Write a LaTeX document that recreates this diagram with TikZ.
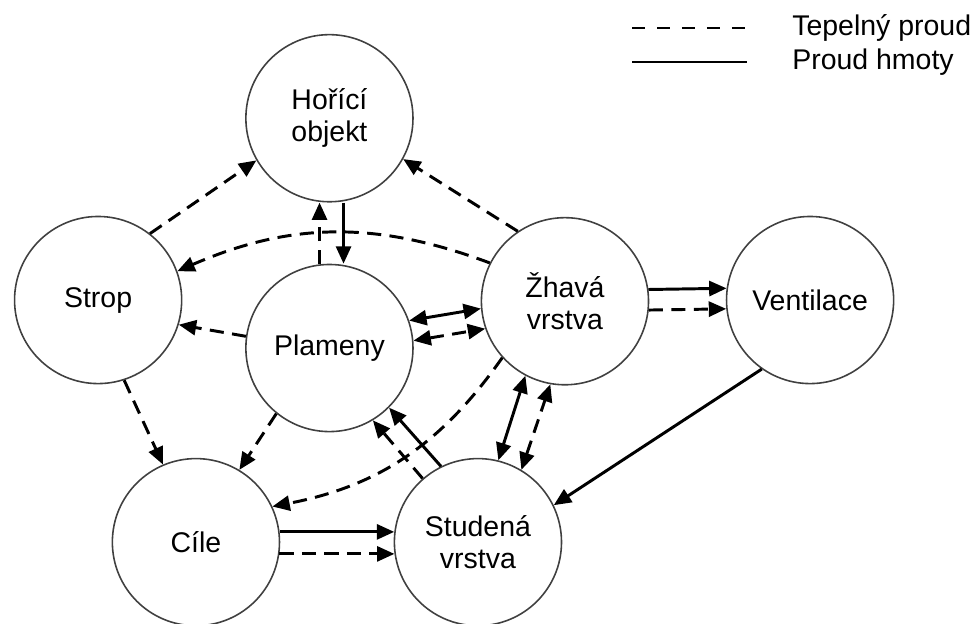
\documentclass[tikz,border=0pt]{standalone}
\usepackage{fontspec}
\setmainfont{Liberation Sans}
\usetikzlibrary{arrows.meta}

\begin{document}
\begin{tikzpicture}[
    >={Triangle[length=0.58cm, width=0.5cm]},
    uzel/.style={circle, draw=black!75, line width=1.5pt, minimum size=5.57cm, inner sep=0pt, align=center, font=\fontsize{27}{30.5}\selectfont},
    hmota/.style={line width=2.8pt, ->},
    teplo/.style={hmota, dash pattern=on 0.47cm off 0.28cm},
  ]
    \useasboundingbox (0,0) rectangle (32.53,20.77);

    % legenda
    \coordinate (L1) at (21.07, 19.83);
    \coordinate (L2) at (24.9, 19.83);
    \coordinate (L3) at (21.07, 18.70);
    \coordinate (L4) at (24.9, 18.70);
    \draw[line width=2.4pt, dash pattern=on 0.43cm off 0.4cm] (L1) -- (L2);
    \draw[line width=2.4pt] (L3) -- (L4);
    \node[anchor=west, inner sep=0pt, font=\fontsize{27}{30.5}\selectfont] (LT) at (26.4, 19.83) {Tepelný proud};
    \node[anchor=west, inner sep=0pt, font=\fontsize{27}{30.5}\selectfont] (LH) at (26.4, 18.70) {Proud hmoty};

    % uzly
    \node[uzel] (H) at (10.98, 16.83) {Hořící\\objekt};
    \node[uzel] (S) at (3.27, 10.77) {Strop};
    \node[uzel] (P) at (10.98, 9.17) {Plameny};
    \node[uzel] (ZV) at (18.83, 10.73) {Žhavá\\vrstva};
    \node[uzel] (V) at (27.00, 10.77) {Ventilace};
    \node[uzel] (C) at (6.53, 2.70) {Cíle};
    \node[uzel] (SV) at (15.93, 2.70) {Studená\\vrstva};

    % tepelný proud
    \draw[teplo] (S.52) -- (H.210);
    \draw[teplo] (ZV.124) -- (H.-29);
    \draw[teplo] ([xshift=-0.33cm]P.north) -- ([xshift=-0.33cm]H.south);
    \draw[teplo] (ZV.153) to[bend right=22] (S.20);
    \draw[teplo] (P.172) -- (S.-17);
    \draw[teplo, <->] (P.5) -- (ZV.199);
    \draw[teplo] (ZV.-6) -- (V.186);
    \draw[teplo] (S.-72) -- (C.113);
    \draw[teplo] (P.231) -- (C.59);
    \draw[teplo] (ZV.222) to[bend left=22] (C.25);
    \draw[teplo] (SV.131) -- (P.-59);
    \draw[teplo, <->] (SV.59) -- (ZV.260);
    \draw[teplo] (C.-8) -- (SV.188);

    % proud hmoty
    \draw[hmota] ([xshift=0.47cm]H.south) -- ([xshift=0.47cm]P.north);
    \draw[hmota, <->] (P.19) -- (ZV.185);
    \draw[hmota] (ZV.8) -- (V.172);
    \draw[hmota] (V.235) -- (SV.26);
    \draw[hmota] (SV.116) -- (P.-45);
    \draw[hmota, <->] (SV.76) -- (ZV.242);
    \draw[hmota] (C.7) -- (SV.173);
\end{tikzpicture}
\end{document}
